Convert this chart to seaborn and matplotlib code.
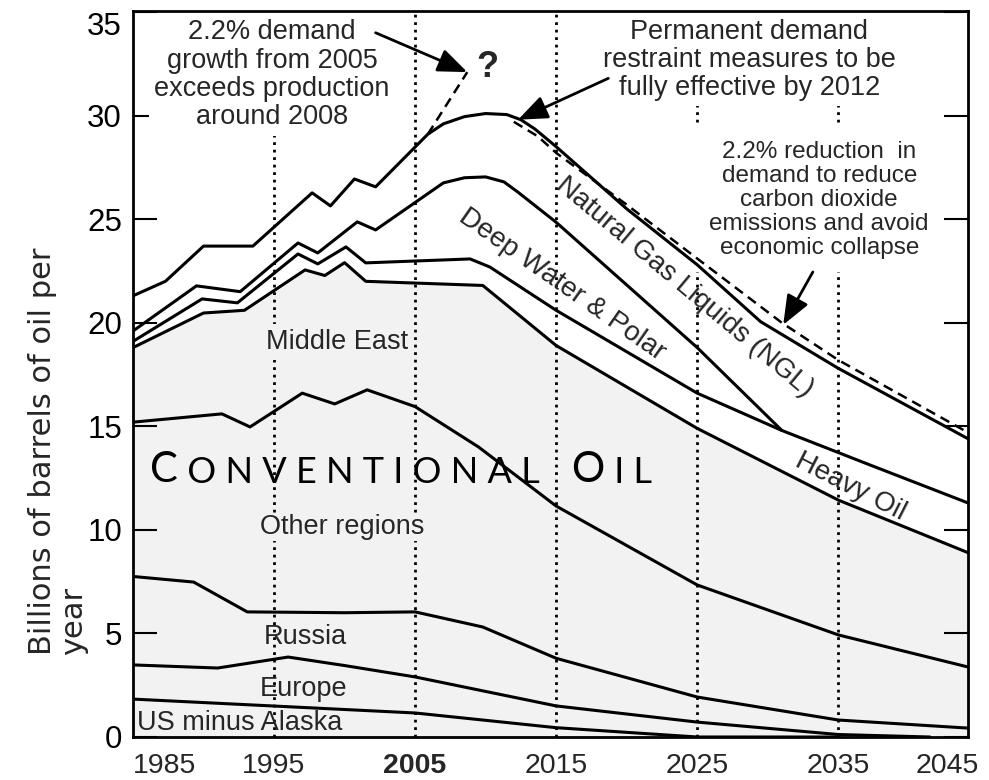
import numpy as np
import matplotlib
matplotlib.use("Agg")
import matplotlib.pyplot as plt
import seaborn as sns

# ---------------- data (billions of barrels per year, cumulative boundaries) -------------
us_years = [1985, 2005, 2015, 2025, 2035]
us_top = [1.83, 1.16, 0.45, 0.0, 0.0]

europe_years = [1985, 1991, 1996, 2000, 2005, 2015, 2025, 2035, 2041.5]
europe_top = [3.48, 3.33, 3.86, 3.45, 2.9, 1.5, 0.72, 0.12, 0.0]

russia_years = [1985, 1989.3, 1993.1, 2000, 2005, 2009.8, 2015, 2025, 2035, 2044.2]
russia_top = [7.75, 7.48, 6.04, 6.0, 6.04, 5.31, 3.8, 1.93, 0.82, 0.43]

other_years = [1985, 1991.3, 1993.3, 1997, 1999.3, 2001.6, 2005, 2009.5, 2015, 2025, 2035, 2044.2]
other_top = [15.2, 15.6, 14.97, 16.6, 16.08, 16.76, 15.95, 14.0, 11.15, 7.34, 4.93, 3.38]

conv_years = [1985, 1990, 1992.9, 1997.2, 1998.6, 2000, 2001.5, 2009.8, 2015, 2025, 2035, 2044.2]
conv_top = [18.8, 20.47, 20.6, 22.55, 22.28, 22.9, 22.0, 21.8, 18.9, 14.9, 11.44, 8.9]

heavy_years = [1985, 1989.9, 1992.4, 1996.7, 1998.1, 2000.1, 2001.5, 2008.9, 2010.3, 2015, 2025, 2031, 2037, 2044.2]
heavy_top = [19.1, 21.15, 20.96, 23.32, 22.84, 23.66, 22.89, 23.08, 22.69, 20.6, 16.6, 14.8, 13.2, 11.3]

deep_years = [1985, 1989.5, 1992.6, 1996.7, 1998.1, 2000.9, 2002.2, 2007, 2008.5, 2010, 2011.3, 2012.3, 2015, 2025, 2031]
deep_top = [19.6, 21.78, 21.5, 23.85, 23.37, 24.87, 24.48, 26.75, 27.0, 27.04, 26.8, 26.3, 24.85, 18.8, 14.8]

ngl_years = [1985, 1987.3, 1990, 1993.5, 1997.7, 1999, 2000.7, 2002.2, 2005.9, 2007, 2008.5,
             2010, 2011.5, 2012.5, 2013.5, 2015, 2020, 2025, 2029.5, 2035, 2044.2]
ngl_top = [21.3, 22.0, 23.7, 23.7, 26.27, 25.64, 26.94, 26.56, 29.1, 29.6, 29.95,
           30.1, 30.05, 29.8, 29.35, 28.5, 25.5, 22.8, 20.05, 17.8, 14.4]

growth_years = [2005.9, 2008.7]
growth_demand = [29.1, 32.1]

restraint_years = [2012, 2013.7, 2015, 2020, 2025, 2031, 2035, 2044.2]
restraint_demand = [29.7, 29.0, 28.2, 25.7, 23.1, 20.0, 18.2, 14.7]

dotted_years = [1995, 2005, 2015, 2025, 2035]
year_ticks = [1985, 1995, 2005, 2015, 2025, 2035, 2045]
year_labels = ["1985", "1995", "2005", "2015", "2025", "2035", "2045"]
y_ticks = [0, 5, 10, 15, 20, 25, 30, 35]
y_labels = ["0", "5", "10", "15", "20", "25", "30", "35"]

# ---------------- style -------------
sns.set_style("white")
plt.rcParams["font.family"] = ["Liberation Sans", "DejaVu Sans"]

W, H = 989, 780
fig = plt.figure(figsize=(W / 100, H / 100), dpi=100)
ax = fig.add_axes([133 / W, 1 - 737 / H, (968 - 133) / W, (737 - 11) / H])
ax.set_xlim(1985, 2044.2)
ax.set_ylim(0, 35.05)

# grey conventional-oil area
ax.fill_between(conv_years, 0, conv_top, color="#f2f2f2", lw=0, zorder=0.5)

# dotted decade lines
for yr in dotted_years:
    ax.axvline(yr, color="black", lw=2.0, linestyle=(0, (1, 1.7)), zorder=1)

# boundary lines
for xs, ys in [(us_years, us_top), (europe_years, europe_top), (russia_years, russia_top),
               (other_years, other_top), (conv_years, conv_top), (heavy_years, heavy_top),
               (deep_years, deep_top), (ngl_years, ngl_top)]:
    sns.lineplot(x=xs, y=ys, ax=ax, color="black", linewidth=2.2, zorder=3)

for xs, ys in [(growth_years, growth_demand), (restraint_years, restraint_demand)]:
    sns.lineplot(x=xs, y=ys, ax=ax, color="black", linewidth=1.8,
                 linestyle=(0, (4, 2.5)), zorder=3)

# axes cosmetics
for s in ax.spines.values():
    s.set_visible(True)
    s.set_linewidth(2.0)
    s.set_color("black")
ax.set_xlabel("")
ax.set_ylabel("")
ax.set_xticks([])
ax.set_yticks(y_ticks)
ax.set_yticklabels(y_labels)
ax.tick_params(axis="y", direction="in", length=17, width=1.5, left=True, right=True,
               labelsize=22.5, pad=8, colors="black")
ax.get_yticklabels()[-1].set_va("top")

xt = ax.get_xaxis_transform()
for yr, lab in zip(year_ticks, year_labels):
    ha = "center"
    if yr == year_ticks[0]:
        ha = "left"
    elif yr == year_ticks[-1]:
        ha = "right"
    ax.text(yr, -0.0496, lab, transform=xt, ha=ha, va="baseline", fontsize=20.5,
            fontweight="bold" if lab == "2005" else "normal", clip_on=False)

fig.text(58 / W, 1 - 655 / H, "Billions of barrels of oil per\nyear", rotation=90,
         ha="center", va="bottom", multialignment="left", fontsize=22,
         family="DejaVu Sans", linespacing=1.1)

# ---------------- annotations -------------
ax.text(1994.86, 31.97, "2.2% demand\ngrowth from 2005\nexceeds production\naround 2008",
        ha="center", va="center", fontsize=19.5, linespacing=1.12, zorder=2,
        bbox=dict(boxstyle="square,pad=0.2", fc="white", ec="none"))
ax.text(2028.7, 32.69, "Permanent demand\nrestraint measures to be\nfully effective by 2012",
        ha="center", va="center", fontsize=19.5, linespacing=1.1, zorder=2,
        bbox=dict(boxstyle="square,pad=0.2", fc="white", ec="none"))
ax.text(2033.65, 25.93,
        "2.2% reduction  in\ndemand to reduce\ncarbon dioxide\nemissions and avoid\neconomic collapse",
        ha="center", va="center", fontsize=17.5, linespacing=1.12, zorder=2,
        bbox=dict(boxstyle="square,pad=0.55", fc="white", ec="none"))
ax.text(2010.1, 32.3, "?", ha="center", va="center", fontsize=26, fontweight="bold", zorder=4)

aprops = dict(arrowstyle="-|>,head_length=0.9,head_width=0.36", color="black", lw=2.0,
              mutation_scale=20, shrinkA=0, shrinkB=0)
ax.annotate("", xy=(2008.7, 32.1), xytext=(2002.2, 34.0), arrowprops=aprops, zorder=5)
ax.annotate("", xy=(2012.3, 29.8), xytext=(2018.7, 31.8), arrowprops=aprops, zorder=5)
ax.annotate("", xy=(2031.1, 19.9), xytext=(2033.2, 22.45), arrowprops=aprops, zorder=5)

# region labels
ax.text(1999.47, 19.07, "Middle East", ha="center", va="center", fontsize=19.5, zorder=2,
        bbox=dict(boxstyle="square,pad=0.2", fc="#f2f2f2", ec="none"))
ax.text(1999.8, 10.14, "Other regions", ha="center", va="center", fontsize=19.5, zorder=2,
        bbox=dict(boxstyle="square,pad=0.05", fc="#f2f2f2", ec="none"))
ax.text(1997.2, 4.83, "Russia", ha="center", va="center", fontsize=19.5, zorder=4)
ax.text(1997.06, 2.32, "Europe", ha="center", va="center", fontsize=19.5, zorder=4)
ax.text(1985.3, 0.68, "US minus Alaska", ha="left", va="center", fontsize=19.5, zorder=4)

ax.text(2024.08, 21.7, "Natural Gas Liquids (NGL)", rotation=-40, rotation_mode="anchor",
        ha="center", va="center", fontsize=20, zorder=4)
ax.text(2015.4, 21.83, "Deep Water & Polar", rotation=-35, rotation_mode="anchor",
        ha="center", va="center", fontsize=20, zorder=4)
ax.text(2035.85, 12.07, "Heavy Oil", rotation=-27, rotation_mode="anchor",
        ha="center", va="center", fontsize=20, zorder=4)

# CONVENTIONAL OIL in small caps
cfont = dict(family=["Lato", "DejaVu Sans"], fontweight="normal", color="black")
t1 = ax.text(1986.2, 12.31, "C", fontsize=30, ha="left", va="baseline", zorder=4, **cfont)
t2 = ax.annotate(" O N V E N T I O N A L", xy=(1, 0), xycoords=t1, ha="left", va="bottom",
                 fontsize=26, zorder=4, **cfont)
t3 = ax.annotate("   O", xy=(1, 0), xycoords=t2, ha="left", va="bottom",
                 fontsize=30, zorder=4, **cfont)
t4 = ax.annotate(" I L", xy=(1, 0), xycoords=t3, ha="left", va="bottom",
                 fontsize=26, zorder=4, **cfont)

fig.savefig("out.png", dpi=100)
